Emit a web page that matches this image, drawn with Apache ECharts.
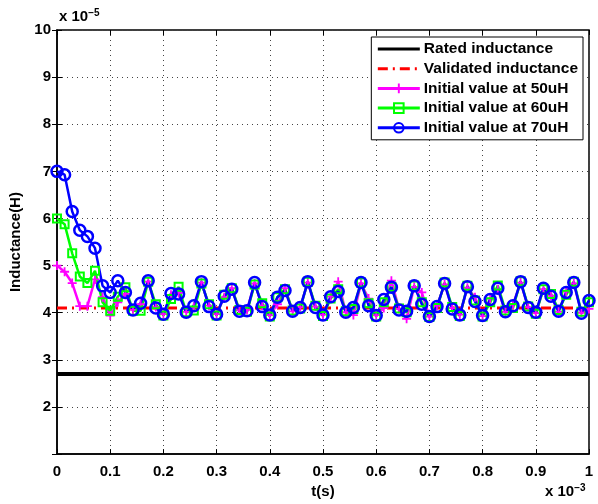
<!DOCTYPE html>
<html>
<head>
<meta charset="utf-8">
<script src="https://cdn.jsdelivr.net/npm/echarts@6/dist/echarts.min.js"></script>
<style>
  html, body { margin: 0; padding: 0; background: #fff; }
  #chart { width: 598px; height: 504px; }
</style>
</head>
<body>
<div id="chart"></div>
<script>
// time in units of 1e-3 s, inductance in units of 1e-5 H
const SAMPLE_COUNT = 71;
const xTicks = [0, 0.1, 0.2, 0.3, 0.4, 0.5, 0.6, 0.7, 0.8, 0.9, 1];

const ratedLine     = [[0, 2.7], [1, 2.7]];
const validatedLine = [[0, 4.1], [1, 4.1]];

const init50 = [
  5.00, 4.87, 4.63, 4.14, 4.14, 4.71, 4.33, 3.94, 4.22, 4.40,
  4.06, 4.18, 4.66, 4.12, 3.97, 4.38, 4.42, 4.02, 4.12, 4.64,
  4.15, 3.97, 4.33, 4.52, 4.05, 4.06, 4.62, 4.15, 3.95, 4.18,
  4.52, 4.03, 4.12, 4.64, 4.13, 3.96, 4.34, 4.66, 4.01, 3.95,
  4.62, 4.30, 3.95, 4.10, 4.68, 4.08, 3.87, 4.55, 4.43, 3.92,
  4.15, 4.60, 4.10, 3.96, 4.53, 4.33, 3.93, 4.30, 4.50, 4.02,
  4.17, 4.64, 4.12, 3.99, 4.50, 4.36, 4.02, 4.45, 4.62, 4.00,
  4.08
];
const init60 = [
  6.00, 5.88, 5.26, 4.77, 4.63, 4.89, 4.22, 4.04, 4.34, 4.54,
  4.04, 4.04, 4.66, 4.18, 3.94, 4.29, 4.55, 4.01, 4.05, 4.62,
  4.18, 3.94, 4.38, 4.52, 4.06, 4.02, 4.60, 4.20, 3.92, 4.33,
  4.50, 4.05, 4.09, 4.66, 4.15, 3.93, 4.30, 4.50, 4.03, 4.08,
  4.64, 4.20, 3.92, 4.22, 4.55, 4.09, 4.01, 4.58, 4.22, 3.91,
  4.10, 4.64, 4.12, 3.93, 4.57, 4.26, 3.92, 4.22, 4.58, 4.05,
  4.10, 4.67, 4.13, 3.98, 4.50, 4.40, 4.06, 4.38, 4.66, 4.02,
  4.22
];
const init70 = [
  7.00, 6.93, 6.15, 5.75, 5.62, 5.37, 4.57, 4.43, 4.68, 4.43,
  4.06, 4.20, 4.68, 4.10, 3.97, 4.41, 4.40, 4.01, 4.15, 4.66,
  4.13, 3.97, 4.35, 4.50, 4.03, 4.04, 4.64, 4.13, 3.95, 4.33,
  4.47, 4.03, 4.11, 4.66, 4.11, 3.95, 4.34, 4.45, 4.01, 4.11,
  4.64, 4.15, 3.94, 4.28, 4.54, 4.06, 4.03, 4.57, 4.18, 3.92,
  4.13, 4.62, 4.08, 3.95, 4.55, 4.24, 3.94, 4.28, 4.52, 4.02,
  4.15, 4.66, 4.11, 4.01, 4.52, 4.35, 4.03, 4.43, 4.64, 3.99,
  4.26
];

const withTime = arr => arr.map((v, i) => [i / (SAMPLE_COUNT - 1), v]);

const FONT = "'Liberation Sans', Arial, sans-serif";
const PLUS = "path://M4,0h2v4h4v2h-4v4h-2v-4h-4v-2h4z";
const NO_FILL = "rgba(0,0,0,0)";

const chart = echarts.init(document.getElementById("chart"));

const gridLine = { show: true, lineStyle: { color: "#444", type: [1, 4], width: 1 } };
const tickIn   = { show: true, inside: true, length: 5, lineStyle: { color: "#000" } };
const boldText = { color: "#000", fontWeight: "bold", fontSize: 15 };

chart.setOption({
  animation: false,
  backgroundColor: "#fff",
  textStyle: { fontFamily: FONT },
  grid: { left: 57, right: 9, top: 30, bottom: 47, show: true, borderColor: "#000", borderWidth: 1.5 },
  legend: {
    right: 15, top: 37, orient: "vertical",
    backgroundColor: "#fff", borderColor: "#000", borderWidth: 1,
    padding: [4, 5, 4, 5], itemGap: 3.7, itemWidth: 42, itemHeight: 12,
    lineStyle: { width: 3 },
    textStyle: { fontFamily: FONT, fontWeight: "bold", fontSize: 15.5, lineHeight: 15, color: "#000", padding: [0, 0, 0, -1] },
    data: ["Rated inductance", "Validated inductance", "Initial value at 50uH",
           "Initial value at 60uH", "Initial value at 70uH"],
  },
  xAxis: [{
    type: "value", min: 0, max: 1, interval: 0.1,
    axisLine: { show: true, lineStyle: { color: "#000", width: 1.5 } },
    axisTick: tickIn, splitLine: gridLine,
    axisLabel: { ...boldText, margin: 10,
                 formatter: v => xTicks.includes(+v.toFixed(1)) ? String(+v.toFixed(1)) : "" },
    name: "t(s)", nameLocation: "middle", nameGap: 28,
    nameTextStyle: boldText,
  }, {
    type: "value", position: "top", min: 0, max: 1, interval: 0.1,
    axisLine: { show: false }, axisTick: tickIn, axisLabel: { show: false }, splitLine: { show: false },
  }],
  yAxis: [{
    type: "value", min: 1, max: 10, interval: 1,
    axisLine: { show: true, lineStyle: { color: "#000", width: 1.5 } },
    axisTick: tickIn, splitLine: gridLine,
    axisLabel: { ...boldText, margin: 6,
                 formatter: v => v === 1 ? "" : String(v) },
    name: "Inductance(H)", nameLocation: "middle", nameGap: 32, nameRotate: 90,
    nameTextStyle: boldText,
  }, {
    type: "value", position: "right", min: 1, max: 10, interval: 1,
    axisLine: { show: false }, axisTick: tickIn, axisLabel: { show: false }, splitLine: { show: false },
  }],
  graphic: [
    { type: "text", left: 59, top: 8,
      style: { text: "{b|x 10}{s|−5}", rich: {
        b: { fontFamily: FONT, fontWeight: "bold", fontSize: 15, fill: "#000" },
        s: { fontFamily: FONT, fontWeight: "bold", fontSize: 10, fill: "#000", verticalAlign: "top", padding: [0, 0, 8, 0] } } } },
    { type: "text", left: 545, top: 483,
      style: { text: "{b|x 10}{s|−3}", rich: {
        b: { fontFamily: FONT, fontWeight: "bold", fontSize: 15, fill: "#000" },
        s: { fontFamily: FONT, fontWeight: "bold", fontSize: 10, fill: "#000", verticalAlign: "top", padding: [0, 0, 8, 0] } } } },
  ],
  series: [
    // plain lines: symbol kept but hidden and unfilled, so the legend shows just the line
    { name: "Rated inductance", type: "line", data: ratedLine,
      symbol: "circle", showSymbol: false,
      lineStyle: { color: "#000", width: 4 },
      itemStyle: { color: NO_FILL, borderWidth: 0 } },
    { name: "Validated inductance", type: "line", data: validatedLine,
      symbol: "circle", showSymbol: false,
      lineStyle: { color: "#ff0000", width: 3, type: [10, 5, 2, 5] },
      itemStyle: { color: NO_FILL, borderWidth: 0 } },
    { name: "Initial value at 50uH", type: "line", data: withTime(init50),
      symbol: PLUS, symbolSize: 9,
      lineStyle: { color: "#ff00ff", width: 2.5 }, itemStyle: { color: "#ff00ff" } },
    { name: "Initial value at 60uH", type: "line", data: withTime(init60),
      symbol: "rect", symbolSize: 8,
      lineStyle: { color: "#00ff00", width: 2.5 },
      itemStyle: { color: NO_FILL, borderColor: "#00ff00", borderWidth: 2 } },
    { name: "Initial value at 70uH", type: "line", data: withTime(init70),
      symbol: "circle", symbolSize: 11,
      lineStyle: { color: "#0000ff", width: 2.5 },
      itemStyle: { color: NO_FILL, borderColor: "#0000ff", borderWidth: 2.5 } },
  ],
});
</script>
</body>
</html>
